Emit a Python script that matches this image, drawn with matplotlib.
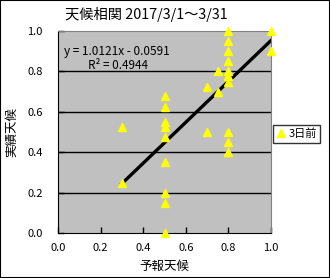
import matplotlib
matplotlib.use('Agg')
import matplotlib.pyplot as plt
from matplotlib.lines import Line2D
from matplotlib.patches import Rectangle
import numpy as np

plt.rcParams['font.family'] = ['Noto Sans CJK JP', 'DejaVu Sans']

forecast = [0.3, 0.3,
            0.5, 0.5, 0.5, 0.5, 0.5, 0.5, 0.5, 0.5, 0.5,
            0.7, 0.7,
            0.75, 0.75,
            0.8, 0.8, 0.8, 0.8, 0.8, 0.8, 0.8, 0.8, 0.8, 0.8,
            1.0, 1.0]
actual = [0.525, 0.25,
          0.68, 0.625, 0.55, 0.525, 0.475, 0.35, 0.2, 0.15, 0.0,
          0.725, 0.5,
          0.8, 0.7,
          1.0, 0.95, 0.9, 0.85, 0.8, 0.775, 0.75, 0.5, 0.45, 0.4,
          1.0, 0.9]
slope, intercept = 1.0121, -0.0591
r2 = 0.4944
ticks = [0.0, 0.2, 0.4, 0.6, 0.8, 1.0]

fig = plt.figure(figsize=(3.3, 2.78), dpi=100)
ax = fig.add_axes([58/330, 45/278, 213/330, 202/278])
ax.set_facecolor('#c0c0c0')

for t in ticks[1:-1]:
    ax.axhline(t, color='k', lw=1, zorder=1)

xs = np.array([min(forecast), max(forecast)])
ax.plot(xs, slope*xs + intercept, color='k', lw=2.4, zorder=2)
ax.plot(forecast, actual, '^', color='yellow', ms=6, mec='yellow',
        clip_on=False, zorder=3)

ax.set_xlim(0, 1)
ax.set_ylim(0, 1)
ax.set_xticks(ticks)
ax.set_yticks(ticks)
ax.set_xticklabels(['%.1f' % t for t in ticks])
ax.set_yticklabels(['%.1f' % t for t in ticks])
ax.tick_params(direction='in', length=4, width=1, labelsize=8)
ax.tick_params(axis='x', pad=7)
ax.tick_params(axis='y', pad=11)
for s in ['top', 'right']:
    ax.spines[s].set_color('#808080')
for s in ['left', 'bottom']:
    ax.spines[s].set_color('k')

ax.set_xlabel('予報天候', fontsize=9)
ax.xaxis.set_label_coords(0.5, -27/202)
ax.set_ylabel('実績天候', fontsize=9)
ax.yaxis.set_label_coords(-40/213, 0.5)

fig.text(65/330, 1-15/278, '天候相関 2017/3/1～3/31', fontsize=10.3,
         ha='left', va='center')
ax.text(0.03, 0.9, 'y = %.4fx - %.4f' % (slope, -intercept),
        transform=ax.transAxes, fontsize=8.5, va='center')
ax.text(0.14, 0.83, 'R² = %.4f' % r2, transform=ax.transAxes,
        fontsize=8.5, va='center')

h = Line2D([], [], marker='^', color='yellow', ls='none', ms=6)
leg = fig.legend([h], ['3日前'], loc='center left',
                 bbox_to_anchor=(273/330, 1-134/278), fontsize=8,
                 frameon=True, fancybox=False, handlelength=0.8,
                 handletextpad=0.3, borderpad=0.3, borderaxespad=0)
leg.get_frame().set_edgecolor('k')
leg.get_frame().set_linewidth(1)

fig.patches.append(Rectangle((0, 0), 1, 1, transform=fig.transFigure,
                             fill=False, edgecolor='k', lw=1.5))

plt.savefig('out.png', dpi=100)
